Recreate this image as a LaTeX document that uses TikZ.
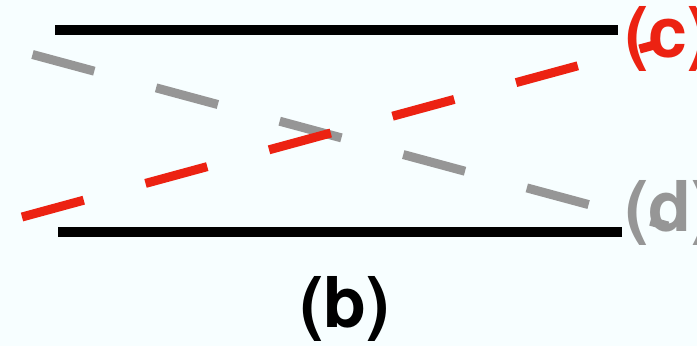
\documentclass[tikz,border=0pt]{standalone}
\usepackage{fontspec}
\setmainfont{TeX Gyre Heros}
\definecolor{bgcol}{RGB}{247,254,255}
\definecolor{redline}{RGB}{236,34,18}
\definecolor{grayline}{RGB}{150,150,150}
\begin{document}
\begin{tikzpicture}[x=1pt,y=-1pt,
  solidbar/.style={line width=10pt,black},
  dashbar/.style={line width=9pt,line cap=butt,dash pattern=on 64pt off 64pt},
  biglabel/.style={inner sep=0pt,anchor=base west,font=\fontsize{70}{70}\selectfont\bfseries}]
  % canvas
  \fill[bgcol] (0,0) rectangle (697,346);
  \useasboundingbox (0,0) rectangle (697,346);
  \clip (0,0) rectangle (697,346);

  % end points of the lines
  \coordinate (topL) at (55,30);
  \coordinate (topR) at (618,30);
  \coordinate (botL) at (58,232);
  \coordinate (botR) at (622,232);
  \coordinate (grayS) at (32.5,54.5);
  \coordinate (grayE) at (668,226);
  \coordinate (redS) at (22,217);
  \coordinate (redE) at (658,44);

  % the two solid plates
  \draw[solidbar] (topL) -- (topR);
  \draw[solidbar] (botL) -- (botR);

  % crossing dashed rays
  \draw[dashbar,grayline] (grayS) -- (grayE);
  \draw[dashbar,redline] (redS) -- (redE);

  % labels
  \node[biglabel,text=redline] (lc) at (625,57) {(c)};
  \node[biglabel,text=grayline] (ld) at (625,231) {(d)};
  \node[biglabel,anchor=base] (lb) at (345,327) {(b)};
\end{tikzpicture}
\end{document}
